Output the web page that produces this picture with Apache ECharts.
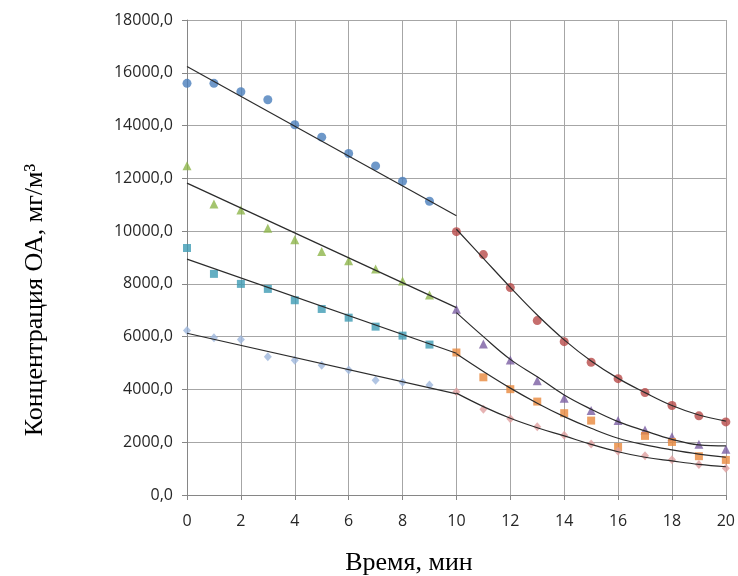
<!DOCTYPE html>
<html><head><meta charset="utf-8">
<script src="https://cdn.jsdelivr.net/npm/echarts@6/dist/echarts.min.js"></script>
<style>html,body{margin:0;padding:0;background:#fff}#c{width:738px;height:576px}</style>
</head><body><div id="c"></div>
<script>
// Time (minutes)
var timeFirst = [0,1,2,3,4,5,6,7,8,9];
var timeSecond = [10,11,12,13,14,15,16,17,18,19,20];
var xTicks = [0,2,4,6,8,10,12,14,16,18,20];

// Measured concentrations, first stage (0–9 min)
var circleFirst  = [15600,15600,15280,14980,14030,13560,12940,12470,11890,11130];
var triFirst     = [12480,11030,10800,10110,9670,9230,8880,8560,8110,7580];
var squareFirst  = [9360,8380,8000,7810,7380,7050,6720,6380,6040,5700];
var diamondFirst = [6230,5960,5890,5240,5110,4920,4740,4350,4270,4170];

// Measured concentrations, second stage (10–20 min)
var circleSecond  = [9980,9110,7860,6610,5810,5030,4410,3880,3390,3000,2770];
var triSecond     = [7040,5720,5120,4330,3670,3200,2820,2460,2210,1920,1730];
var squareSecond  = [5400,4460,4010,3540,3100,2820,1820,2240,2010,1470,1330];
var diamondSecond = [3910,3250,2890,2590,2260,1930,1660,1490,1340,1160,1010];

// Linear trend lines (endpoints at 0 and 10 min)
var trendX = [0,10];
var circleTrend  = [16240,10580];
var triTrend     = [11820,7100];
var squareTrend  = [8940,5370];
var diamondTrend = [6130,3830];

// Polynomial trend curves (10–20 min)
var circleCurve  = [10070,8970,7870,6820,5880,5080,4420,3880,3390,3030,2800];
var triCurve     = [6910,6000,5140,4480,3790,3250,2780,2430,2110,1900,1860];
var squareCurve  = [5350,4680,4050,3480,2970,2530,2150,1900,1710,1550,1430];
var diamondCurve = [3860,3350,2910,2550,2240,1920,1640,1430,1290,1160,1070];

function pairs(xs, ys){ return xs.map(function(x,i){ return [x, ys[i]]; }); }

var chart = echarts.init(document.getElementById('c'));

function scatter(name, xs, ys, symbol, size, color){
  return {name:name, type:'scatter', data:pairs(xs,ys), symbol:symbol, symbolSize:size,
    itemStyle:{color:color}, z:2, silent:true};
}
function line(name, xs, ys, smooth){
  return {name:name, type:'line', data:pairs(xs,ys), showSymbol:false, smooth:smooth,
    lineStyle:{color:'#2b2b2b', width:1.2}, z:3, silent:true};
}

chart.setOption({
  animation:false,
  backgroundColor:'#fff',
  grid:{left:187, right:8, top:20, bottom:81},
  xAxis:{type:'value', min:0, max:20, interval:2,
    axisLine:{lineStyle:{color:'#868686'}},
    axisTick:{show:true, length:5, lineStyle:{color:'#868686'}},
    axisLabel:{color:'#262626', fontFamily:'Open Sans', fontSize:16, margin:18},
    splitLine:{show:true, lineStyle:{color:'#a6a6a6', width:1}}},
  yAxis:{type:'value', min:0, max:18000, interval:2000,
    axisLine:{show:true, lineStyle:{color:'#868686'}},
    axisTick:{show:true, length:5, lineStyle:{color:'#868686'}},
    axisLabel:{color:'#262626', fontFamily:'Open Sans', fontSize:16, margin:14,
      formatter:function(v){ return v.toFixed(1).replace('.', ','); }},
    splitLine:{show:true, lineStyle:{color:'#a6a6a6', width:1}}},
  graphic:[
    {type:'text', x:35, y:300, rotation:Math.PI/2,
      style:{text:'Концентрация ОА, мг/м³', font:'26px "Liberation Serif"', fill:'#000',
        textAlign:'center', textVerticalAlign:'middle'}},
    {type:'text', x:409, y:563,
      style:{text:'Время, мин', font:'26px "Liberation Serif"', fill:'#000',
        textAlign:'center', textVerticalAlign:'middle'}}
  ],
  series:[
    scatter('c1', timeFirst, circleFirst, 'circle', 9, '#4a7ebb'),
    scatter('t1', timeFirst, triFirst, 'triangle', 9, '#8db54a'),
    scatter('s1', timeFirst, squareFirst, 'rect', 8, '#3d9bb4'),
    scatter('d1', timeFirst, diamondFirst, 'diamond', [8,9], '#9db6dc'),
    scatter('c2', timeSecond, circleSecond, 'circle', 9, '#b84a48'),
    scatter('t2', timeSecond, triSecond, 'triangle', 9, '#7b5ea3'),
    scatter('s2', timeSecond, squareSecond, 'rect', 8, '#e8883c'),
    scatter('d2', timeSecond, diamondSecond, 'diamond', [8,9], '#e0a0a0'),
    line('lc1', trendX, circleTrend, false),
    line('lt1', trendX, triTrend, false),
    line('ls1', trendX, squareTrend, false),
    line('ld1', trendX, diamondTrend, false),
    line('lc2', timeSecond, circleCurve, 0.4),
    line('lt2', timeSecond, triCurve, 0.4),
    line('ls2', timeSecond, squareCurve, 0.4),
    line('ld2', timeSecond, diamondCurve, 0.4)
  ]
});
</script></body></html>
